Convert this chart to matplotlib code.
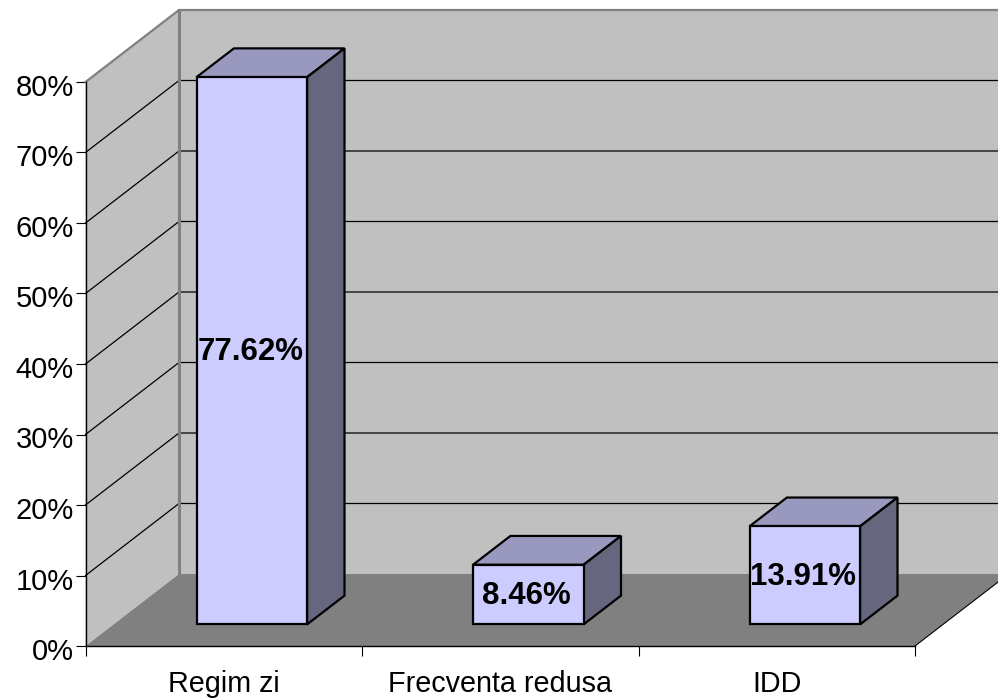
import matplotlib
matplotlib.use('Agg')
import matplotlib.pyplot as plt
from matplotlib.patches import Polygon
from matplotlib.transforms import ScaledTranslation

categories = ['Regim zi', 'Frecventa redusa', 'IDD']
values = [77.62, 8.46, 13.91]
value_labels = ['77.62%', '8.46%', '13.91%']
yticks = [0, 10, 20, 30, 40, 50, 60, 70, 80]

plt.rcParams['font.family'] = ['Liberation Sans', 'DejaVu Sans']

W, H = 998, 698
fig = plt.figure(figsize=(W / 100, H / 100), dpi=100)
ax = fig.add_axes([85.5 / W, (H - 646) / H, 829.5 / W, 564 / H])
ax.set_xlim(0, 3)
ax.set_ylim(0, 80)

# depth of the 3d box, in data units
dx = 93.5 / 276.5
dy = 72 / 7.05


def poly(pts, fc, ec='none', lw=0, z=1):
    ax.add_patch(Polygon(pts, closed=True, facecolor=fc, edgecolor=ec, linewidth=lw,
                         joinstyle='miter', clip_on=False, zorder=z))


# walls and floor
poly([(0, 0), (dx, dy), (dx, 80 + dy), (0, 80)], '#c0c0c0')
poly([(dx, dy), (3 + dx, dy), (3 + dx, 80 + dy), (dx, 80 + dy)], '#c0c0c0')
poly([(0, 0), (3, 0), (3 + dx, dy), (dx, dy)], '#808080')

# grid lines
for v in yticks[1:-1]:
    ax.plot([0, dx, 3 + dx], [v, v + dy, v + dy], color='black', lw=0.9, clip_on=False, zorder=2)
ax.plot([0, dx, 3 + dx], [80, 80 + dy, 80 + dy], color='#808080', lw=1.6, clip_on=False, zorder=2)
ax.plot([dx, dx], [dy, 80 + dy], color='#808080', lw=2.2, clip_on=False, zorder=2)
ax.plot([3, 3 + dx], [0, dy], color='black', lw=0.8, clip_on=False, zorder=2)

# bars
bar_w = 0.4
near, far = 0.3, 0.7
label_shift = ScaledTranslation(-1.5 / 100, -1.5 / 100, fig.dpi_scale_trans)
for i, v in enumerate(values):
    x0 = i + 0.5 - bar_w / 2 + near * dx
    x1 = x0 + bar_w
    y0 = near * dy
    y1 = y0 + v
    ox = (far - near) * dx
    oy = (far - near) * dy
    poly([(x0, y1), (x1, y1), (x1 + ox, y1 + oy), (x0 + ox, y1 + oy)], '#9999bf', 'black', 1.6, 3)
    poly([(x1, y0), (x1 + ox, y0 + oy), (x1 + ox, y1 + oy), (x1, y1)], '#66667f', 'black', 1.6, 3)
    poly([(x0, y0), (x1, y0), (x1, y1), (x0, y1)], '#ccccff', 'black', 1.6, 4)
    ax.text((x0 + x1) / 2, y0 + v / 2, value_labels[i], ha='center', va='center',
            fontsize=22.5, fontweight='bold', color='black', zorder=5, clip_on=False,
            transform=ax.transData + label_shift)

for s in ['top', 'right']:
    ax.spines[s].set_visible(False)
for s in ['left', 'bottom']:
    ax.spines[s].set_linewidth(1.0)
    ax.spines[s].set_zorder(6)

ax.set_yticks(yticks)
ax.set_yticklabels([f'{v}%' for v in yticks], fontsize=21)
ax.tick_params(axis='y', length=7.5, width=0.8, pad=1)
down = ScaledTranslation(0, -3 / 100, fig.dpi_scale_trans)
for lab in ax.get_yticklabels():
    lab.set_transform(lab.get_transform() + down)

ax.set_xticks([0, 1, 2, 3])
ax.set_xticklabels([])
ax.tick_params(axis='x', which='major', length=7.5, width=0.8)
ax.set_xticks([0.5, 1.5, 2.5], minor=True)
ax.set_xticklabels(categories, minor=True, fontsize=20.7)
ax.tick_params(axis='x', which='minor', length=0, pad=17)

fig.savefig('out.png', dpi=100)
